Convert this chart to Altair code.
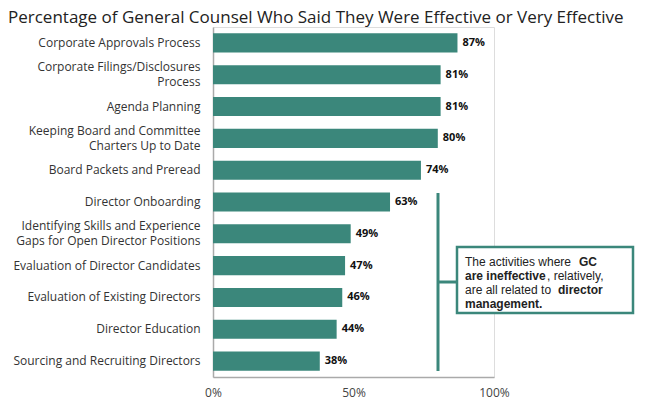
import altair as alt
import pandas as pd

title_text = "Percentage of General Counsel Who Said They Were Effective or Very Effective"
categories = [
    "Corporate Approvals Process",
    "Corporate Filings/Disclosures|Process",
    "Agenda Planning",
    "Keeping Board and Committee|Charters Up to Date",
    "Board Packets and Preread",
    "Director Onboarding",
    "Identifying Skills and Experience|Gaps for Open Director Positions",
    "Evaluation of Director Candidates",
    "Evaluation of Existing Directors",
    "Director Education",
    "Sourcing and Recruiting Directors",
]
values = [87, 81, 81, 80, 74, 63, 49, 47, 46, 44, 38]
x_ticks = [0, 0.5, 1.0]

TEAL = "#3b877b"
FONT = "Open Sans"
BOXFONT = "Liberation Sans"

df = pd.DataFrame({"cat": categories, "v": [v / 100 for v in values]})
df["lab"] = [f"{v}%" for v in values]

base = alt.Chart(df)

xenc = alt.X("v:Q", scale=alt.Scale(domain=[0, 1], nice=False),
             axis=alt.Axis(values=x_ticks, format=".0%", title=None, grid=False,
                           ticks=False, labelPadding=10, labelFontSize=12,
                           labelColor="#444", domainColor="#aaa", domainWidth=1.5,
                           labelFont=FONT, labelFlush=False))
yenc = alt.Y("cat:N", sort=categories,
             scale=alt.Scale(paddingInner=0.4, paddingOuter=0.2),
             axis=alt.Axis(title=None, ticks=False, labelPadding=13, labelFontSize=12,
                           labelColor="#333", labelFont=FONT, labelLimit=260,
                           labelExpr="split(datum.label, '|')", labelLineHeight=15,
                           labelOffset={"condition": {"test": "indexof(datum.value, '|') >= 0",
                                                      "value": -7.5},
                                        "value": 0},
                           domainColor="#aaa", domainWidth=1.5))

bars = base.mark_bar(color=TEAL).encode(x=xenc, y=yenc)
labels = base.mark_text(align="left", baseline="middle", dx=5, fontWeight="bold",
                        fontSize=11, font=FONT, color="#111").encode(
    x="v:Q", y=alt.Y("cat:N", sort=categories), text="lab:N")

one = alt.Data(values=[{"a": 1}])

title = alt.Chart(one).mark_text(align="left", baseline="alphabetic", fontSize=17,
                                 font=FONT, color="#222").encode(
    x=alt.value(-205), y=alt.value(-4), text=alt.value(title_text))

vrule = alt.Chart(one).mark_rule(color=TEAL, strokeWidth=3).encode(
    x=alt.value(225), y=alt.value(166), y2=alt.value(344))
hrule = alt.Chart(one).mark_rule(color=TEAL, strokeWidth=3).encode(
    x=alt.value(225), x2=alt.value(244), y=alt.value(255))
box = alt.Chart(one).mark_rect(fill="white", stroke=TEAL, strokeWidth=2.5).encode(
    x=alt.value(244), x2=alt.value(420), y=alt.value(220), y2=alt.value(286))

segments = [
    ("The activities where", "normal", 252, 235),
    ("GC", "bold", 366, 235),
    ("are ineffective", "bold", 252, 249),
    (", relatively,", "normal", 334, 249),
    ("are all related to", "normal", 252, 263),
    ("director", "bold", 345, 263),
    ("management.", "bold", 252, 277),
]
seg_layers = [
    alt.Chart(one).mark_text(align="left", baseline="middle", fontSize=12, font=BOXFONT,
                             fontWeight=w, color="#222").encode(
        x=alt.value(px), y=alt.value(py), text=alt.value(t))
    for t, w, px, py in segments
]

chart = alt.layer(bars, labels, title, vrule, hrule, box, *seg_layers).properties(
    width=281, height=350,
    autosize=alt.AutoSizeParams(type="none"),
    padding={"left": 205, "top": 19, "right": 145, "bottom": 30},
).configure_view(stroke=None).configure(background="white")

chart.save("out.html", embed_options={"renderer": "svg", "actions": False})
